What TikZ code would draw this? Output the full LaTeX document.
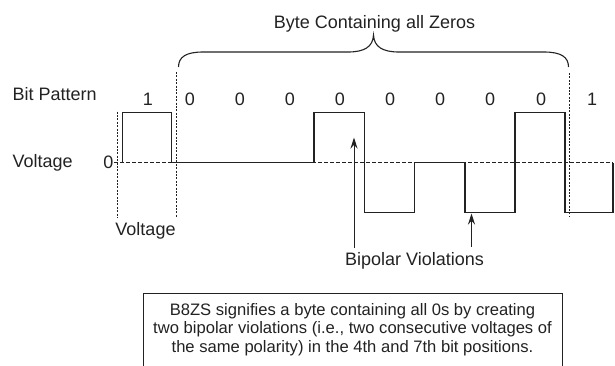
\documentclass[tikz,border=0pt]{standalone}
\usepackage{fontspec}
\setmainfont{Liberation Sans}
\usetikzlibrary{arrows.meta}
\definecolor{ink}{HTML}{222222}
\begin{document}
\begin{tikzpicture}[x=1pt,y=-1pt,
  lbl/.style={inner sep=0pt,anchor=base,text=ink,font=\fontsize{18}{21}\selectfont},
  signal/.style={line width=1.2pt,draw=ink,line join=miter},
  zeroline/.style={line width=0.9pt,draw=ink,dash pattern=on 3.5pt off 2.5pt},
  guide/.style={line width=1pt,draw=ink,dash pattern=on 2pt off 1.4pt},
  pointer/.style={line width=1pt,draw=ink,-{Stealth[length=11pt,width=7pt]}},
  bracket/.style={line width=1.1pt,draw=ink}]
\useasboundingbox (0,0) rectangle (615,365);

% title and brace over the byte
\node[lbl] (title) at (374.5,28.5) {Byte Containing all Zeros};
\coordinate (bl) at (178.5,67);
\coordinate (tip) at (373.5,35);
\coordinate (br) at (568.5,67);
\draw[bracket] (bl) .. controls (178.5,57) and (186,52) .. (203,52)
  -- (348,52) .. controls (364,52) and (373,47) .. (tip)
  .. controls (374,47) and (383,52) .. (399,52)
  -- (544,52) .. controls (561,52) and (568.5,57) .. (br);

% row labels
\node[lbl,anchor=base west] (bp) at (12.5,100.7) {Bit Pattern};
\node[lbl,anchor=base west] (vl) at (12.5,167.5) {Voltage};
\node[lbl] (zero) at (108.5,168) {0};
\node[lbl] (vb) at (145.5,235) {Voltage};

% bit values
\foreach \x/\b [count=\i] in {148/1,190/0,240/0,290/0,340/0,390/0,440/0,490/0,541/0,592/1}
  \node[lbl] (bit\i) at (\x,105) {\b};

% guides
\draw[zeroline] (114,162.5) -- (613,162.5);
\draw[guide] (117.3,111.5) -- (117.3,217);
\draw[guide] (176,72) -- (176,218);
\draw[guide] (569.3,73) -- (569.3,216);

% B8ZS line signal
\draw[signal] (122.7,162.5) -- (122.7,112.5) -- (171.3,112.5) -- (171.3,162.5)
  -- (314,162.5) -- (314,112.5) -- (364.3,112.5) -- (364.3,212.5)
  -- (414.3,212.5) -- (414.3,162.5) -- (465,162.5) -- (465,212.5)
  -- (515,212.5) -- (515,112.5) -- (565,112.5) -- (565,212.5)
  -- (613,212.5) -- (613,162.5);

% violation pointers
\node[lbl] (bv) at (414.5,265.7) {Bipolar Violations};
\coordinate (v1) at (354,137.5);
\coordinate (v2) at (471.5,213.5);
\draw[pointer] (v1 |- 0,248) -- (v1);
\draw[pointer] (v2 |- 0,247) -- (v2);

% caption box, open at the lower edge of the page
\node[draw=ink,line width=1pt,inner sep=0pt,minimum width=419pt,minimum height=90pt,
      anchor=north west] (box) at (142.7,292.7) {};
\node[inner sep=0pt,anchor=base,text=ink,align=center,
      font=\fontsize{16.6}{18.5}\selectfont] (cap) at (352.5,352)
  {B8ZS signifies a byte containing all 0s by creating\\
   two bipolar violations (i.e., two consecutive voltages of\\
   the same polarity) in the 4th and 7th bit positions.};
\end{tikzpicture}
\end{document}
